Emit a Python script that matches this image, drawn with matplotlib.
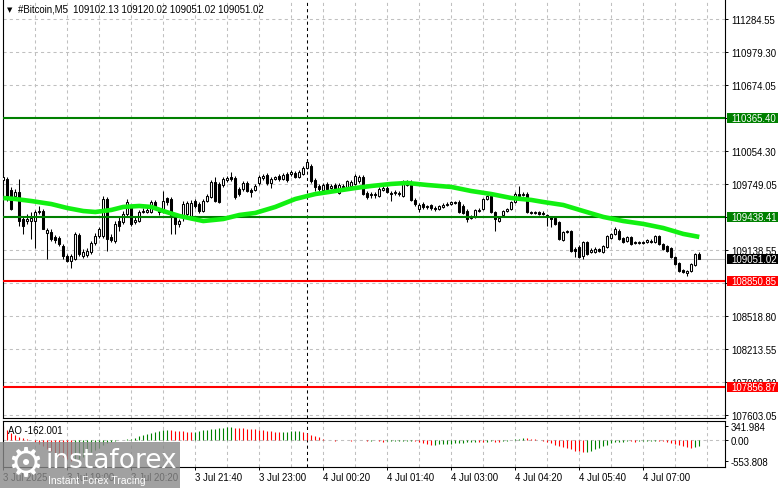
import numpy as np
import matplotlib.pyplot as plt
from matplotlib.patches import Rectangle
from matplotlib.transforms import blended_transform_factory

plt.rcParams['font.family'] = ['Liberation Sans', 'DejaVu Sans']

# M5 candles, bar 0 = 3 Jul 17:40
opens = [109787, 109796, 109694, 109638, 109675, 109424, 109405, 109405, 109405, 109489,
         109498, 109294, 109303, 109257, 109247, 109173, 109080, 109034, 109052, 109275,
         109080, 109089, 109117, 109201, 109266, 109266, 109610, 109257, 109219, 109405,
         109396, 109470, 109536, 109396, 109405, 109489, 109489, 109489, 109582, 109498,
         109498, 109619, 109610, 109443, 109378, 109443, 109470, 109452, 109591, 109563,
         109498, 109591, 109629, 109768, 109750, 109740, 109787, 109815, 109805, 109703,
         109703, 109759, 109694, 109694, 109759, 109805, 109833, 109759, 109796, 109824,
         109796, 109842, 109842, 109852, 109815, 109842, 109898, 109917, 109787, 109731,
         109694, 109750, 109712, 109740, 109666, 109731, 109722, 109731, 109750, 109777,
         109815, 109666, 109647, 109656, 109638, 109694, 109712, 109666, 109666, 109666,
         109638, 109740, 109768, 109601, 109517, 109563, 109545, 109554, 109526, 109517,
         109536, 109554, 109563, 109582, 109582, 109545, 109498, 109433, 109443, 109498,
         109517, 109610, 109638, 109489, 109405, 109461, 109498, 109517, 109582, 109656,
         109647, 109656, 109489, 109480, 109489, 109480, 109461, 109443, 109433, 109396,
         109229, 109303, 109312, 109145, 109164, 109080, 109210, 109117, 109117, 109145,
         109117, 109164, 109247, 109285, 109312, 109247, 109219, 109257, 109210, 109201,
         109210, 109210, 109219, 109210, 109266, 109192, 109173, 109154, 109071, 109015,
         108950, 108922, 108940, 108996, 109102.13]
highs = [109870, 109815, 109722, 109703, 109796, 109443, 109470, 109489, 109508, 109545,
         109517, 109340, 109331, 109275, 109266, 109192, 109099, 109099, 109303, 109294,
         109145, 109154, 109219, 109294, 109350, 109638, 109629, 109285, 109405, 109443,
         109498, 109610, 109554, 109443, 109508, 109526, 109536, 109601, 109601, 109517,
         109684, 109629, 109629, 109461, 109424, 109591, 109591, 109601, 109610, 109582,
         109610, 109656, 109787, 109815, 109768, 109815, 109824, 109861, 109824, 109722,
         109777, 109777, 109712, 109750, 109833, 109842, 109852, 109815, 109824, 109842,
         109852, 109861, 109880, 109870, 109880, 109917, 109982, 109935, 109805, 109750,
         109759, 109768, 109750, 109759, 109759, 109750, 109787, 109787, 109842, 109833,
         109833, 109684, 109675, 109675, 109722, 109731, 109731, 109684, 109694, 109684,
         109787, 109787, 109787, 109619, 109573, 109582, 109554, 109563, 109545, 109554,
         109573, 109582, 109591, 109591, 109601, 109563, 109517, 109461, 109517, 109526,
         109619, 109647, 109647, 109498, 109443, 109508, 109526, 109591, 109675, 109731,
         109675, 109675, 109498, 109498, 109498, 109498, 109470, 109452, 109443, 109405,
         109312, 109322, 109322, 109164, 109182, 109219, 109219, 109154, 109164, 109154,
         109182, 109275, 109294, 109350, 109331, 109257, 109266, 109266, 109219, 109219,
         109219, 109238, 109238, 109275, 109275, 109201, 109182, 109164, 109080, 109024,
         108959, 108950, 109015, 109108, 109120.02]
lows = [109768, 109591, 109508, 109629, 109359, 109285, 109378, 109238, 109154, 109470,
        109331, 109052, 109219, 109201, 109173, 109052, 109024, 108968, 109043, 109080,
        109061, 109071, 109099, 109182, 109247, 109247, 109126, 109210, 109201, 109312,
        109378, 109452, 109359, 109378, 109396, 109480, 109480, 109480, 109526, 109461,
        109480, 109554, 109285, 109285, 109350, 109405, 109452, 109433, 109526, 109480,
        109489, 109582, 109619, 109582, 109573, 109722, 109768, 109777, 109610, 109638,
        109684, 109675, 109629, 109684, 109740, 109787, 109740, 109712, 109787, 109777,
        109787, 109768, 109824, 109805, 109805, 109833, 109889, 109759, 109684, 109684,
        109684, 109694, 109703, 109675, 109656, 109684, 109712, 109722, 109740, 109759,
        109647, 109610, 109619, 109619, 109629, 109684, 109666, 109591, 109647, 109638,
        109629, 109731, 109591, 109545, 109489, 109517, 109517, 109508, 109498, 109508,
        109526, 109545, 109554, 109563, 109480, 109470, 109396, 109424, 109433, 109489,
        109508, 109601, 109480, 109312, 109396, 109443, 109489, 109508, 109573, 109629,
        109638, 109480, 109470, 109470, 109461, 109461, 109359, 109350, 109368, 109229,
        109219, 109294, 109117, 109071, 109061, 109052, 109089, 109108, 109108, 109117,
        109108, 109154, 109238, 109275, 109229, 109201, 109210, 109182, 109192, 109192,
        109192, 109201, 109201, 109201, 109182, 109136, 109117, 109061, 108996, 108931,
        108922, 108894, 108931, 108987, 109051.02]
closes = [109815, 109610, 109517, 109675, 109405, 109359, 109424, 109433, 109489, 109498,
          109331, 109322, 109238, 109229, 109192, 109080, 109034, 109080, 109285, 109099,
          109117, 109126, 109201, 109266, 109331, 109610, 109238, 109229, 109378, 109359,
          109470, 109582, 109378, 109415, 109489, 109498, 109508, 109582, 109545, 109489,
          109591, 109582, 109443, 109378, 109405, 109563, 109573, 109573, 109545, 109498,
          109591, 109638, 109768, 109591, 109582, 109796, 109805, 109796, 109629, 109656,
          109759, 109684, 109675, 109731, 109815, 109824, 109759, 109796, 109815, 109796,
          109833, 109787, 109861, 109815, 109861, 109898, 109954, 109777, 109722, 109703,
          109740, 109703, 109731, 109684, 109740, 109703, 109777, 109768, 109824, 109815,
          109656, 109629, 109656, 109647, 109703, 109712, 109675, 109656, 109675, 109656,
          109768, 109768, 109601, 109563, 109554, 109536, 109536, 109526, 109517, 109545,
          109554, 109563, 109582, 109573, 109489, 109480, 109424, 109443, 109508, 109508,
          109610, 109638, 109489, 109424, 109433, 109498, 109517, 109582, 109656, 109638,
          109656, 109489, 109480, 109489, 109470, 109470, 109443, 109424, 109378, 109238,
          109303, 109312, 109126, 109126, 109071, 109210, 109099, 109136, 109145, 109126,
          109173, 109266, 109285, 109331, 109238, 109210, 109257, 109192, 109201, 109210,
          109201, 109229, 109210, 109266, 109192, 109145, 109126, 109071, 109006, 108940,
          108931, 108940, 109006, 109099, 109051.02]

# moving average, read at some bars
ma_bars = [0, 3, 7, 12, 16, 20, 23, 27, 30, 34, 37, 40, 44, 50, 55, 59, 63, 68, 73, 78,
           83, 88, 92, 97, 101, 106, 112, 117, 122, 127, 132, 135, 140, 145, 150, 155,
           160, 165, 170, 174]
ma_values = [109619, 109610, 109591, 109563, 109526, 109498, 109489, 109508, 109536, 109545,
             109536, 109498, 109452, 109405, 109424, 109461, 109480, 109536, 109610, 109656,
             109684, 109712, 109731, 109750, 109759, 109740, 109722, 109684, 109656, 109619,
             109601, 109582, 109554, 109498, 109443, 109405, 109378, 109340, 109285, 109257]

ao_values = [341.984, 250, 170, 110, 60, 30, 10, -20, -70, -120,
             -180, -240, -300, -360, -420, -470, -520, -553.808, -540, -500,
             -450, -390, -330, -270, -210, -150, -100, -60, -35, -15,
             -5, 5, 20, 50, 80, 110, 140, 170, 200, 225,
             240, 245, 238, 230, 222, 214, 206, 198, 205, 220,
             238, 255, 270, 285, 298, 308, 316, 322, 315, 305,
             295, 285, 275, 265, 255, 245, 232, 220, 208, 196,
             200, 206, 212, 218, 224, 200, 165, 125, 90, 55,
             25, -5, -15, -25, -22, -18, -20, -25, -20, -15,
             -20, -28, -25, -22, -40, -55, -50, -45, -42, -38,
             -35, -32, -30, -45, -70, -100, -125, -140, -135, -128,
             -120, -112, -104, -96, -88, -80, -72, -64, -56, -60,
             -64, -55, -48, -52, -56, -40, -25, -10, 10, 25,
             35, 30, 20, 2, -20, -45, -70, -100, -130, -165,
             -200, -230, -260, -290, -310, -325, -315, -290, -250, -210,
             -170, -130, -100, -75, -62, -52, -45, -50, -56, -50,
             -45, -40, -36, -32, -38, -48, -62, -85, -115, -148,
             -180, -208, -230, -195, -162.001]

green_levels = [110365.40, 109438.41]
red_levels = [108850.85, 107856.87]
bid_price = 109051.02

price_ticks = [111284.55, 110979.30, 110674.05, 110364.15, 110054.30, 109749.05, 109443.80,
               109138.55, 108828.65, 108518.80, 108213.55, 107908.30, 107603.05]
# scale labels fully covered by the level boxes are left blank
hidden_ticks = [110364.15, 109443.80, 108828.65]
ao_ticks = [341.984, 0.0, -553.808]
ao_tick_labels = ['341.984', '0.00', '-553.808']

time_bars = [0, 16, 32, 48, 64, 80, 96, 112, 128, 144, 160]
time_labels = ['3 Jul 2025', '3 Jul 19:00', '3 Jul 20:20', '3 Jul 21:40', '3 Jul 23:00',
               '4 Jul 00:20', '4 Jul 01:40', '4 Jul 03:00', '4 Jul 04:20', '4 Jul 05:40',
               '4 Jul 07:00']
day_sep_bar = 76

W, H = 781, 489
fig = plt.figure(figsize=(W / 100, H / 100), dpi=100)
ax = fig.add_axes([3 / W, 1 - 419 / H, 722 / W, 419 / H])
ax2 = fig.add_axes([3 / W, 1 - 468 / H, 722 / W, 46 / H])

n = len(closes)
x = np.arange(n)
o = np.array(opens)
c = np.array(closes)
grid_kw = dict(color='#c0c0c0', lw=0.75, ls=(0, (3, 3)), zorder=0)
fs = 6.9

for a in (ax, ax2):
    a.set_xlim(-0.075, 180.425)
    for b in range(0, 181, 8):
        a.axvline(b, **grid_kw)
    a.axvline(day_sep_bar, color='black', lw=0.75, ls=(0, (3, 3)), zorder=1)
    for s in a.spines.values():
        s.set_linewidth(0.8)
    a.yaxis.tick_right()
    a.tick_params(axis='y', direction='out', length=2.2, width=0.7, pad=2, labelsize=fs)

# main price panel
ax.set_ylim(107573, 111470)
ax.spines['top'].set_visible(False)
for p in price_ticks:
    ax.axhline(p, **grid_kw)
ax.set_yticks(price_ticks)
ax.set_yticklabels(['' if p in hidden_ticks else '%.2f' % p for p in price_ticks])
ax.set_xticks([])
ax.axhline(bid_price, color='#c0c0c0', lw=0.75, zorder=1)

up = c >= o
ax.vlines(x, lows, highs, color='black', lw=0.75, zorder=2)
body_lo = np.minimum(o, c)
body_h = np.maximum(np.abs(c - o), 4)
ax.bar(x, body_h, bottom=body_lo, width=0.55, color=np.where(up, 'white', 'black'),
       edgecolor='black', linewidth=0.75, zorder=3)

for lv in green_levels:
    ax.axhline(lv, color='#008000', lw=1.5, zorder=4)
for lv in red_levels:
    ax.axhline(lv, color='#ff0000', lw=1.5, zorder=4)
ax.plot(ma_bars, ma_values, color='#11f011', lw=3.3, zorder=5, solid_capstyle='butt')

# price boxes on the scale
tr = blended_transform_factory(fig.transFigure, ax.transData)
half = 46.5
boxes = [(p, '#008000') for p in green_levels] + [(p, '#ff0000') for p in red_levels] + [(bid_price, 'black')]
for p, col in boxes:
    ax.add_patch(Rectangle((727 / W, p - half), 51 / W, 2 * half, transform=tr,
                           facecolor=col, edgecolor='none', clip_on=False, zorder=10))
    ax.text(731 / W, p, '%.2f' % p, transform=tr, color='white', fontsize=fs,
            va='center', ha='left', clip_on=False, zorder=11)

# AO panel
ao = np.array(ao_values)
ao_col = ['#ff0000'] + ['#008000' if ao[i] > ao[i - 1] else '#ff0000' for i in range(1, n)]
ax2.set_ylim(-719, 486)
ax2.axhline(0, **grid_kw)
ax2.vlines(x, 0, ao, colors=ao_col, lw=0.8, zorder=2)
ax2.set_yticks(ao_ticks)
ax2.set_yticklabels(ao_tick_labels)
ax2.set_xticks(time_bars)
ax2.set_xticklabels(time_labels, ha='left')
ax2.tick_params(axis='x', direction='out', length=2.2, width=0.7, pad=1.5, labelsize=fs)
ax2.text(0.007, 0.8, 'AO %.3f' % ao_values[-1], transform=ax2.transAxes, fontsize=fs,
         va='center', ha='left')

# header
fig.text(7 / W, 1 - 10 / H, '\u25bc', fontsize=5, va='center', ha='left', family='DejaVu Sans')
fig.text(18 / W, 1 - 10 / H, '#Bitcoin,M5  %.2f %.2f %.2f %.2f' % (opens[-1], highs[-1], lows[-1], closes[-1]),
         fontsize=fs, va='center', ha='left')

# watermark
fig.patches.append(Rectangle((0, 0), 180 / W, 46 / H, transform=fig.transFigure,
                             facecolor='#8a8a8a', edgecolor='none', alpha=0.8, zorder=20))
fig.text(25 / W, 1 - 465 / H, '\u2699', fontsize=29, color='white', ha='center', va='center',
         family='DejaVu Sans', zorder=21)
fig.text(46 / W, 1 - 461 / H, 'instaforex', fontsize=19, color='white', ha='left', va='center',
         family='DejaVu Sans', zorder=21)
fig.text(48 / W, 1 - 481 / H, 'Instant Forex Tracing', fontsize=7.5, color='white', ha='left',
         va='center', zorder=21)

fig.savefig('out.png', dpi=100)
